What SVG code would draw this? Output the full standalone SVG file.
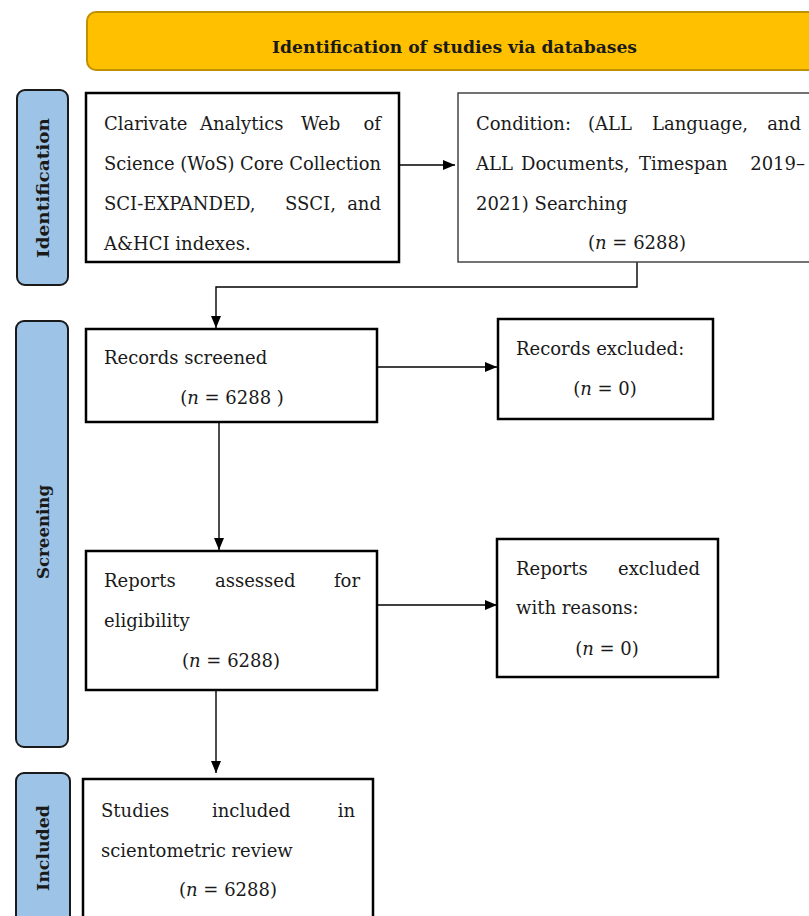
<svg xmlns="http://www.w3.org/2000/svg" width="809" height="916" viewBox="0 0 809 916">
<defs>
<marker id="arr" viewBox="0 0 12 10" refX="12" refY="5" markerWidth="12" markerHeight="10" markerUnits="userSpaceOnUse" orient="auto">
<path d="M0,0 L12,5 L0,10 Z" fill="#000"/>
</marker>
<style>
.t{font-family:"DejaVu Serif","Liberation Serif",serif;font-size:18px;fill:#1a1a1a}
.b{fill:#fff;stroke:#000;stroke-width:2.5}
.b2{fill:#fff;stroke:#444;stroke-width:1.5}
.lab{fill:#9DC3E6;stroke:#1a1a1a;stroke-width:2}
.lt{font-family:"DejaVu Serif","Liberation Serif",serif;font-size:16px;font-weight:bold;fill:#1a1a1a}
.c{fill:none;stroke:#000;stroke-width:1.4}
.e{text-anchor:end}
.m{text-anchor:middle}
</style>
</defs>
<rect width="809" height="916" fill="#fff"/>

<g id="banner">
<rect x="87" y="12" width="740" height="58" rx="9" fill="#FFC000" stroke="#BF9000" stroke-width="2"/>
<text x="454.5" y="53" class="lt m" font-size="17" textLength="365" lengthAdjust="spacingAndGlyphs">Identification of studies via databases</text>
</g>

<g id="label-identification">
<rect x="17" y="90" width="51" height="195" rx="8" class="lab"/>
<text class="lt m" transform="translate(49,188) rotate(-90)" textLength="140" lengthAdjust="spacingAndGlyphs">Identification</text>
</g>
<g id="label-screening">
<rect x="16" y="321" width="52" height="426" rx="8" class="lab"/>
<text class="lt m" transform="translate(49,532) rotate(-90)" textLength="94" lengthAdjust="spacingAndGlyphs">Screening</text>
</g>
<g id="label-included">
<rect x="16" y="773" width="54" height="160" rx="8" class="lab"/>
<text class="lt m" transform="translate(49,848) rotate(-90)" textLength="86" lengthAdjust="spacingAndGlyphs">Included</text>
</g>

<g id="connectors">
<line x1="400" y1="165" x2="455" y2="165" class="c" marker-end="url(#arr)"/>
<polyline points="637,262 637,287 216,287 216,328" class="c" marker-end="url(#arr)"/>
<line x1="377" y1="367" x2="497" y2="367" class="c" marker-end="url(#arr)"/>
<line x1="219" y1="422" x2="219" y2="550" class="c" marker-end="url(#arr)"/>
<line x1="377" y1="605" x2="497" y2="605" class="c" marker-end="url(#arr)"/>
<line x1="216" y1="690" x2="216" y2="773" class="c" marker-end="url(#arr)"/>
</g>

<g id="node-wos">
<rect x="86" y="93" width="313" height="169" class="b"/>
<text class="t" y="130"><tspan x="104">Clarivate</tspan><tspan x="200">Analytics</tspan><tspan x="301">Web</tspan></text>
<text class="t e" x="381" y="130">of</text>
<text class="t" x="104" y="170" textLength="277" lengthAdjust="spacingAndGlyphs">Science (WoS) Core Collection</text>
<text class="t" y="210"><tspan x="104">SCI-EXPANDED,</tspan><tspan x="285">SSCI,</tspan></text>
<text class="t e" x="381" y="210">and</text>
<text class="t" x="104" y="250">A&amp;HCI indexes.</text>
</g>

<g id="node-condition">
<rect x="458" y="93" width="360" height="169" class="b2"/>
<text class="t" y="130"><tspan x="476">Condition:</tspan><tspan x="588">(ALL</tspan><tspan x="652">Language,</tspan></text>
<text class="t e" x="801" y="130">and</text>
<text class="t" y="170"><tspan x="476">ALL</tspan><tspan x="521">Documents,</tspan><tspan x="639">Timespan</tspan></text>
<text class="t e" x="805" y="170">2019–</text>
<text class="t" x="476" y="210">2021) Searching</text>
<text class="t m" x="637" y="249">(<tspan font-style="italic">n</tspan> = 6288)</text>
</g>

<g id="node-records-screened">
<rect x="86" y="329" width="291" height="93" class="b"/>
<text class="t" x="104" y="364">Records screened</text>
<text class="t m" x="232" y="404">(<tspan font-style="italic">n</tspan> = 6288 )</text>
</g>

<g id="node-records-excluded">
<rect x="498" y="319" width="215" height="100" class="b"/>
<text class="t" x="516" y="355">Records excluded:</text>
<text class="t m" x="605" y="395">(<tspan font-style="italic">n</tspan> = 0)</text>
</g>

<g id="node-reports-assessed">
<rect x="86" y="551" width="291" height="139" class="b"/>
<text class="t" y="587"><tspan x="104">Reports</tspan><tspan x="215">assessed</tspan></text>
<text class="t e" x="360" y="587">for</text>
<text class="t" x="104" y="627">eligibility</text>
<text class="t m" x="231" y="667">(<tspan font-style="italic">n</tspan> = 6288)</text>
</g>

<g id="node-reports-excluded">
<rect x="497" y="539" width="221" height="138" class="b"/>
<text class="t" x="516" y="575">Reports</text>
<text class="t e" x="700" y="575">excluded</text>
<text class="t" x="516" y="614">with reasons:</text>
<text class="t m" x="607" y="655">(<tspan font-style="italic">n</tspan> = 0)</text>
</g>

<g id="node-included">
<rect x="83" y="779" width="290" height="160" class="b"/>
<text class="t" y="817"><tspan x="101">Studies</tspan><tspan x="212">included</tspan></text>
<text class="t e" x="355" y="817">in</text>
<text class="t" x="101" y="857">scientometric review</text>
<text class="t m" x="228" y="896">(<tspan font-style="italic">n</tspan> = 6288)</text>
</g>
</svg>
